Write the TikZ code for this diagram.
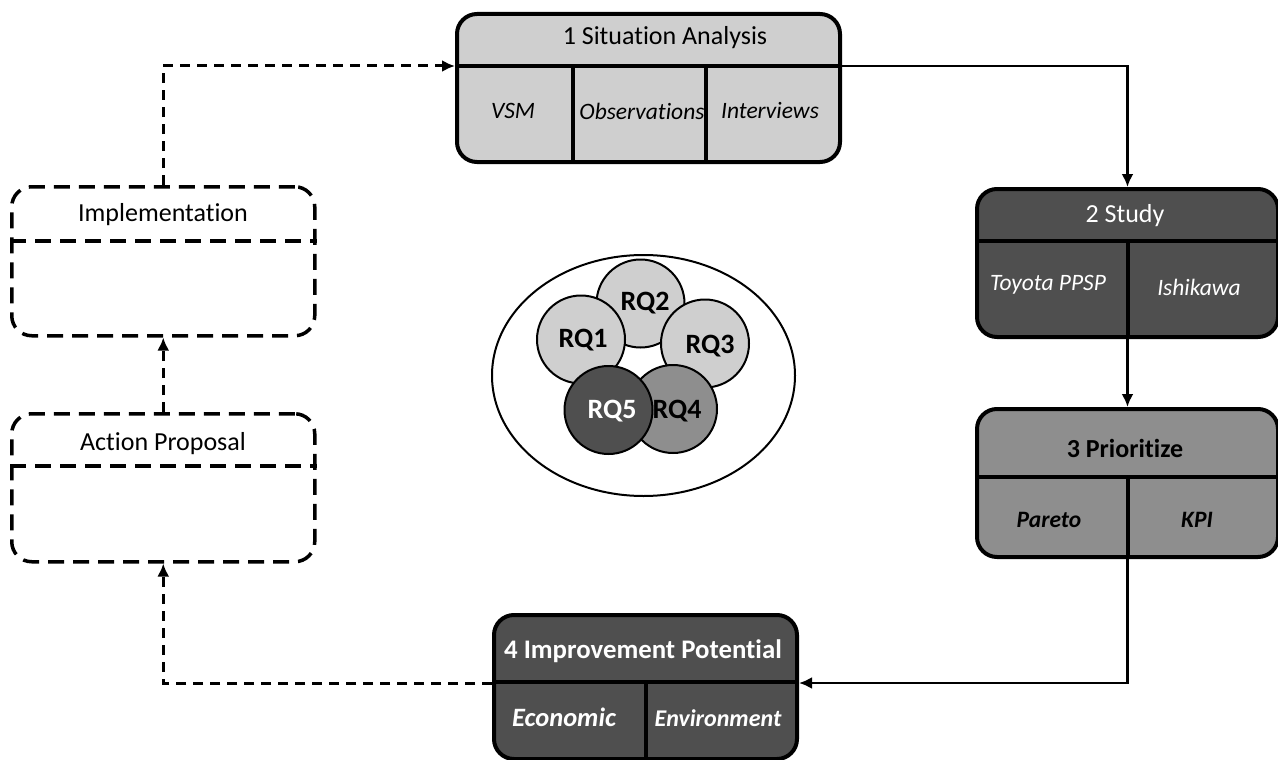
\documentclass[tikz,border=0pt]{standalone}
\usepackage{fontspec}
\setmainfont[Ligatures=NoCommon]{Carlito}
\usetikzlibrary{arrows.meta,shapes.geometric}

\definecolor{lightg}{HTML}{CFCFCF}
\definecolor{midg}{HTML}{8E8E8E}
\definecolor{darkg}{HTML}{4F4F4F}

\tikzset{
  stagebox/.style={draw=black, line width=4pt, rounded corners=20pt, anchor=north west, inner sep=0pt},
  planbox/.style={draw=black, line width=3.5pt, rounded corners=20pt, anchor=north west, inner sep=0pt,
    dash pattern=on 16pt off 9pt},
  divider/.style={draw=black, line width=4pt},
  planline/.style={draw=black, line width=3.5pt, dash pattern=on 16pt off 9pt},
  titletext/.style={font=\fontsize{26}{31}\selectfont, inner sep=0pt, anchor=base},
  subtext/.style={font=\fontsize{23.5}{28}\selectfont\itshape, inner sep=0pt, anchor=base},
  flow/.style={draw=black, line width=2.5pt, -{Latex[length=13pt,width=12pt]}},
  planflow/.style={draw=black, line width=3pt, dash pattern=on 10pt off 7pt, -{Latex[length=13pt,width=12pt]}},
  rq/.style={circle, draw=black, line width=2pt, minimum size=88pt, inner sep=0pt},
  rqtext/.style={font=\fontsize{28}{33}\selectfont\bfseries, inner sep=0pt, anchor=base}
}

\begin{document}
\begin{tikzpicture}[x=1pt, y=-1pt]
\useasboundingbox (0,0) rectangle (1278,760);

% ---- stage 1: situation analysis ----
\node[stagebox, fill=lightg, minimum width=383pt, minimum height=148pt] (s1) at (455,12) {};
\draw[divider] (s1.west |- 0,66) -- (s1.east |- 0,66);
\draw[divider] (573,66) -- (573,0 |- s1.south);
\draw[divider] (706,66) -- (706,0 |- s1.south);
\node[titletext] (s1t) at (665,45) {1 Situation Analysis};
\node[subtext] (s1a) at (513,118) {VSM};
\node[subtext] (s1b) at (642,119) {Observations};
\node[subtext] (s1c) at (770,118) {Interviews};

% ---- stage 2: study ----
\node[stagebox, fill=darkg, minimum width=301pt, minimum height=148pt] (s2) at (975,187) {};
\draw[divider] (s2.west |- 0,241) -- (s2.east |- 0,241);
\draw[divider] (s2.south) -- (s2.center |- 0,241);
\node[titletext, text=white] (s2t) at (1125,222) {2 Study};
\node[subtext, text=white] (s2a) at (1048,290) {Toyota PPSP};
\node[subtext, text=white] (s2b) at (1199,295) {Ishikawa};

% ---- stage 3: prioritize ----
\node[stagebox, fill=midg, minimum width=301pt, minimum height=148pt] (s3) at (975,407) {};
\draw[divider] (s3.west |- 0,477) -- (s3.east |- 0,477);
\draw[divider] (s3.south) -- (s3.center |- 0,477);
\node[titletext, font=\fontsize{26}{31}\selectfont\bfseries] (s3t) at (1125,457) {3 Prioritize};
\node[subtext, font=\fontsize{23.5}{28}\selectfont\bfseries\itshape] (s3a) at (1049,527) {Pareto};
\node[subtext, font=\fontsize{23.5}{28}\selectfont\bfseries\itshape] (s3b) at (1197,527) {KPI};

% ---- stage 4: improvement potential ----
\node[stagebox, fill=darkg, minimum width=303pt, minimum height=144pt] (s4) at (492,613) {};
\draw[divider] (s4.west |- 0,682) -- (s4.east |- 0,682);
\draw[divider] (s4.south) -- (s4.center |- 0,682);
\node[titletext, text=white, font=\fontsize{26.8}{32}\selectfont\bfseries] (s4t) at (643,658) {4 Improvement Potential};
\node[subtext, text=white, font=\fontsize{26.5}{31}\selectfont\bfseries\itshape] (s4a) at (564,726) {Economic};
\node[subtext, text=white, font=\fontsize{24}{29}\selectfont\bfseries\itshape] (s4b) at (718,726) {Environment};

% ---- planned steps (dashed) ----
\node[planbox, minimum width=303pt, minimum height=149pt] (impl) at (10,185) {};
\draw[planline] (impl.west |- 0,241) -- (impl.east |- 0,241);
\node[titletext] (implt) at (163,221) {Implementation};

\node[planbox, minimum width=303pt, minimum height=148pt] (ap) at (10,412) {};
\draw[planline] (ap.west |- 0,466) -- (ap.east |- 0,466);
\node[titletext] (apt) at (163,450) {Action Proposal};

% ---- research questions ----
\node[ellipse, draw=black, line width=2pt, minimum width=303pt, minimum height=241pt, inner sep=0pt] (rqall) at (643.5,375.5) {};
\node[rq, fill=lightg] (rq2) at (640.5,303.5) {};
\node[rq, fill=lightg] (rq1) at (581,339.5) {};
\node[rq, fill=lightg] (rq3) at (705,343.5) {};
\node[rq, fill=midg] (rq4) at (673,409) {};
\node[rq, fill=darkg] (rq5) at (608.5,410) {};
\node[rqtext] (rq2t) at (645,310) {RQ2};
\node[rqtext] (rq1t) at (583,347) {RQ1};
\node[rqtext] (rq3t) at (710,353) {RQ3};
\node[rqtext] (rq4t) at (677,418) {RQ4};
\node[rqtext, text=white] (rq5t) at (612,418) {RQ5};

% ---- flow between stages ----
\draw[flow] (s1.east |- 0,66) -| (s2.north);
\draw[flow] (s2.south) -- (s3.north);
\draw[flow] (s3.south) |- (s4.east |- 0,683);
\draw[planflow] (s4.west |- 0,683) -| (ap.south);
\draw[planflow] (ap.north) -- (impl.south);
\draw[planflow] (impl.north) |- (s1.west |- 0,66);
\end{tikzpicture}
\end{document}
